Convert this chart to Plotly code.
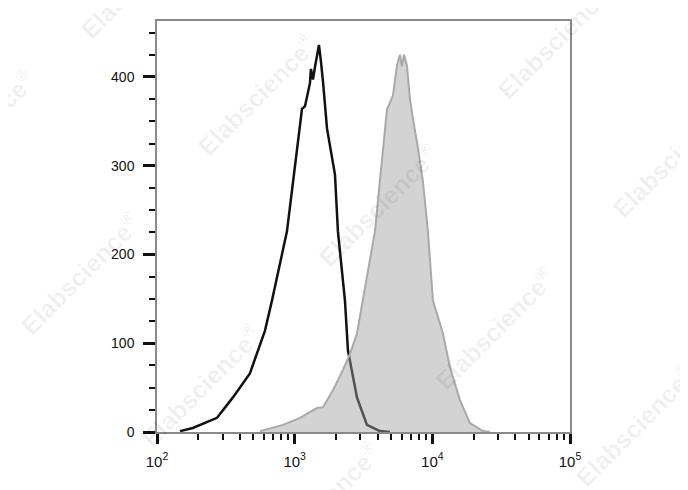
import plotly.graph_objects as go

# Unstained / isotype control (black outline histogram)
black_x = [147, 182, 273, 356, 473, 608, 684, 879, 1092, 1130, 1188, 1291, 1313, 1358,
           1404, 1501, 1553, 1606, 1717, 1962, 2062, 2319, 2438, 2834, 3350, 4161, 4920]
black_y = [1, 4.5, 16, 39, 66, 114, 148, 226, 345, 364, 367, 393, 409, 397,
           411, 436, 417, 395, 342, 290, 226, 148, 92, 39, 8, 1, 0]

# Stained sample (gray filled histogram)
gray_x = [560, 822, 1092, 1452, 1606, 1897, 2244, 2522, 2834, 3133, 3830, 4680, 5175,
          5532, 5816, 6012, 6218, 6541, 6876, 7228, 7730, 8548, 9290, 10100, 11940,
          13430, 15860, 18760, 23290, 26190]
gray_y = [1, 8, 16, 27, 28, 47, 70, 88, 111, 148, 226, 363, 379,
          413, 425, 412, 425, 413, 375, 353, 327, 282, 226, 148, 111,
          73, 36, 10, 1, 0]

x_tickvals = [100, 1000, 10000, 100000]
x_ticktext = ["10<sup>2</sup>", "10<sup>3</sup>", "10<sup>4</sup>", "10<sup>5</sup>"]
y_tickvals = [0, 100, 200, 300, 400]

watermark_text = "Elabscience<sup>®</sup>"
# watermark centres in paper coordinates
wm_x = [-0.041, 0.242, 0.969, -0.441, 1.247, 0.535, -0.186, 0.818, 0.107, 0.395, 1.157]
wm_y = [1.107, 0.823, 0.961, 0.736, 0.671, 0.552, 0.387, 0.252, 0.114, -0.172, 0.017]

fig = go.Figure()
fig.add_trace(go.Scatter(
    x=black_x, y=black_y, mode="lines",
    line=dict(color="#111111", width=2.5, shape="linear"),
    hoverinfo="skip", showlegend=False))
fig.add_trace(go.Scatter(
    x=gray_x, y=gray_y, mode="lines", fill="tozeroy",
    fillcolor="rgba(160,160,160,0.46)",
    line=dict(color="#a9a9a9", width=2),
    hoverinfo="skip", showlegend=False))

annotations = []
for xp, yp in zip(wm_x, wm_y):
    annotations.append(dict(
        x=xp, y=yp, xref="paper", yref="paper", text=watermark_text,
        xanchor="center", yanchor="middle",
        showarrow=False, textangle=-45,
        font=dict(family="Liberation Sans, Arial", size=25, color="rgba(0,0,0,0.065)",
                  weight="bold")))

fig.update_layout(
    width=688, height=490,
    margin=dict(l=149, r=126, t=11, b=66),
    paper_bgcolor="white", plot_bgcolor="white",
    font=dict(family="Liberation Sans, Arial", color="#111111"),
    annotations=annotations,
    xaxis=dict(
        type="log", range=[2, 5],
        tickvals=x_tickvals, ticktext=x_ticktext,
        ticks="outside", ticklen=10, tickwidth=3, tickcolor="#111111",
        minor=dict(ticks="outside", ticklen=6, tickwidth=2, tickcolor="#111111", dtick="D1"),
        showline=True, linecolor="#8a8a8a", linewidth=1.5, mirror=True,
        showgrid=False, zeroline=False,
        tickfont=dict(size=15), ticklabelstandoff=5),
    yaxis=dict(
        range=[0, 463],
        tickvals=y_tickvals,
        ticks="outside", ticklen=12, tickwidth=3, tickcolor="#111111",
        minor=dict(ticks="outside", ticklen=6, tickwidth=2, tickcolor="#111111", dtick=25),
        showline=True, linecolor="#8a8a8a", linewidth=1.5, mirror=True,
        showgrid=False, zeroline=False,
        tickfont=dict(size=14), ticklabelstandoff=6),
)

fig.write_html("out.html")
